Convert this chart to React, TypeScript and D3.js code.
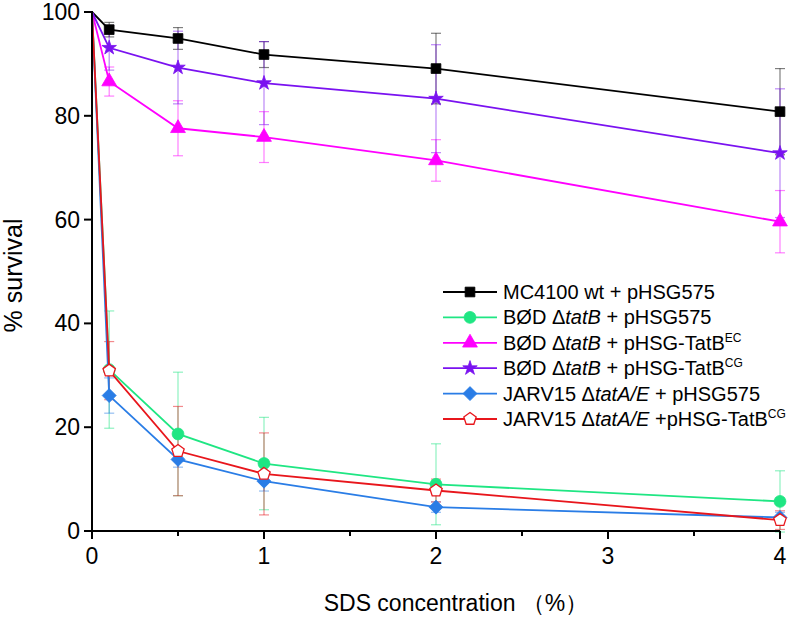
import * as d3 from "d3";

const width = 800;
const height = 622;
const margin = {top: 12, right: 20, bottom: 91, left: 92};

// SDS concentration (%)
const concentrations = [0, 0.1, 0.5, 1, 2, 4];

const mc4100 = [100, 96.6, 94.9, 91.8, 89.1, 80.8];
const mc4100Err = [0, 1.4, 2.1, 2.5, 6.8, 8.3];
const bodPHSG = [100, 31.1, 18.7, 13.0, 9.0, 5.7];
const bodPHSGErr = [0, 11.3, 11.9, 8.9, 7.8, 5.9];
const bodEC = [100, 86.6, 77.6, 75.9, 71.4, 59.6];
const bodECErr = [0, 2.8, 5.3, 4.9, 4.0, 6.0];
const bodCG = [100, 93.1, 89.3, 86.3, 83.3, 72.8];
const bodCGErr = [0, 4.3, 7.0, 8.0, 10.4, 12.4];
const jarvPHSG = [100, 26.1, 13.8, 9.6, 4.6, 2.6];
const jarvPHSGErr = [0, 3.4, 1.5, 1.9, 1.0, 1.0];
const jarvCG = [100, 30.9, 15.4, 11.0, 7.8, 2.1];
const jarvCGErr = [0, 5.6, 8.6, 7.9, 2.2, 1.8];

const xTicks = [0, 1, 2, 3, 4];
const xMinorTicks = [0.5, 1.5, 2.5, 3.5];
const yTicks = [0, 20, 40, 60, 80, 100];

const font = "'Liberation Sans', Arial, sans-serif";

// regular polygon marker (pentagon / rotated square)
const polygon = (n: number, r: number, start: number) => {
    const pts = d3.range(n).map(i => {
        const a = start + i * 2 * Math.PI / n;
        return [r * Math.cos(a), r * Math.sin(a)];
    });
    return "M" + pts.map(p => p.join(",")).join("L") + "Z";
};

const series = [
    {name: [{t: "MC4100 wt + pHSG575"}], values: mc4100, errs: mc4100Err, color: "#000000", marker: d3.symbol(d3.symbolSquare, 95)(), fill: "#000000"},
    {name: [{t: "BØD Δ"}, {t: "tatB", i: true}, {t: " + pHSG575"}], values: bodPHSG, errs: bodPHSGErr, color: "#1fe683", marker: d3.symbol(d3.symbolCircle, 110)(), fill: "#1fe683"},
    {name: [{t: "BØD Δ"}, {t: "tatB", i: true}, {t: " + pHSG-TatB"}, {t: "EC", s: true}], values: bodEC, errs: bodECErr, color: "#ff00ff", marker: d3.symbol(d3.symbolTriangle, 95)(), fill: "#ff00ff"},
    {name: [{t: "BØD Δ"}, {t: "tatB", i: true}, {t: " + pHSG-TatB"}, {t: "CG", s: true}], values: bodCG, errs: bodCGErr, color: "#7a12f0", marker: d3.symbol(d3.symbolStar, 65)(), fill: "#7a12f0"},
    {name: [{t: "JARV15 Δ"}, {t: "tatA/E", i: true}, {t: " + pHSG575"}], values: jarvPHSG, errs: jarvPHSGErr, color: "#2a7de6", marker: polygon(4, 7, -Math.PI / 2), fill: "#2a7de6"},
    {name: [{t: "JARV15 Δ"}, {t: "tatA/E", i: true}, {t: " +pHSG-TatB"}, {t: "CG", s: true}], values: jarvCG, errs: jarvCGErr, color: "#e8161c", marker: polygon(5, 6.5, -Math.PI / 2), fill: "#ffffff"},
];

export default function App() {
    const x = d3.scaleLinear().domain([0, 4]).range([margin.left, width - margin.right]);
    const y = d3.scaleLinear().domain([0, 100]).range([height - margin.bottom, margin.top]);
    const line = d3.line<number>().x((_, i) => x(concentrations[i])).y(d => y(d));

    return (
        <svg width={width} height={height} style={{position: "absolute", left: 0, top: 0, background: "#fff"}}
             fontFamily={font}>
            {/* error bars */}
            {series.map((s, si) => (
                <g key={"e" + si} stroke={s.color} strokeOpacity={0.5} strokeWidth={1.2}>
                    {s.values.map((v, i) => s.errs[i] > 0 && (
                        <g key={i}>
                            <line x1={x(concentrations[i])} x2={x(concentrations[i])} y1={y(v + s.errs[i])} y2={y(v - s.errs[i])}/>
                            <line x1={x(concentrations[i]) - 5} x2={x(concentrations[i]) + 5} y1={y(v + s.errs[i])} y2={y(v + s.errs[i])}/>
                            <line x1={x(concentrations[i]) - 5} x2={x(concentrations[i]) + 5} y1={y(v - s.errs[i])} y2={y(v - s.errs[i])}/>
                        </g>
                    ))}
                </g>
            ))}
            {/* lines + markers */}
            {series.map((s, si) => (
                <g key={"s" + si}>
                    <path d={line(s.values) ?? ""} fill="none" stroke={s.color} strokeWidth={1.8}/>
                    {s.values.map((v, i) => i > 0 && (
                        <path key={i} d={s.marker ?? ""} transform={`translate(${x(concentrations[i])},${y(v)})`}
                              fill={s.fill} stroke={s.color} strokeWidth={si === 5 ? 1.3 : 0.8}/>
                    ))}
                </g>
            ))}
            {/* axes */}
            <g stroke="#000" strokeWidth={2}>
                <line x1={x(0)} x2={x(4)} y1={y(0)} y2={y(0)}/>
                <line x1={x(0)} x2={x(0)} y1={y(0) + 1} y2={y(100) - 1}/>
                {xTicks.map(t => <line key={t} x1={x(t)} x2={x(t)} y1={y(0)} y2={y(0) + 8}/>)}
                {xMinorTicks.map(t => <line key={t} x1={x(t)} x2={x(t)} y1={y(0)} y2={y(0) + 5}/>)}
                {yTicks.map(t => <line key={t} x1={x(0)} x2={x(0) - 8} y1={y(t)} y2={y(t)}/>)}
            </g>
            <g fontSize={23} fill="#000">
                {xTicks.map(t => <text key={t} x={x(t)} y={y(0) + 33} textAnchor="middle">{t}</text>)}
                {yTicks.map(t => <text key={t} x={x(0) - 12} y={y(t) + 8} textAnchor="end">{t}</text>)}
            </g>
            <text x={(x(0) + x(4)) / 2 + 20} y={611} textAnchor="middle" fontSize={23}>SDS concentration （%）</text>
            <text transform={`translate(22,${(y(0) + y(100)) / 2 + 4}) rotate(-90)`} textAnchor="middle" fontSize={25}>% survival</text>
            {/* legend */}
            {series.map((s, si) => {
                const ly = 292 + si * 25.4;
                return (
                    <g key={"l" + si}>
                        <line x1={443} x2={497} y1={ly} y2={ly} stroke={s.color} strokeWidth={1.8}/>
                        <path d={s.marker ?? ""} transform={`translate(470,${ly})`} fill={s.fill} stroke={s.color}
                              strokeWidth={si === 5 ? 1.3 : 0.8}/>
                        <text x={503} y={ly + 7} fontSize={20}>
                            {s.name.map((p: any, pi) => (
                                <tspan key={pi} fontStyle={p.i ? "italic" : undefined} fontSize={p.s ? 12 : undefined}
                                       dy={p.s ? -8 : undefined}>{p.t}</tspan>
                            ))}
                        </text>
                    </g>
                );
            })}
        </svg>
    );
}
